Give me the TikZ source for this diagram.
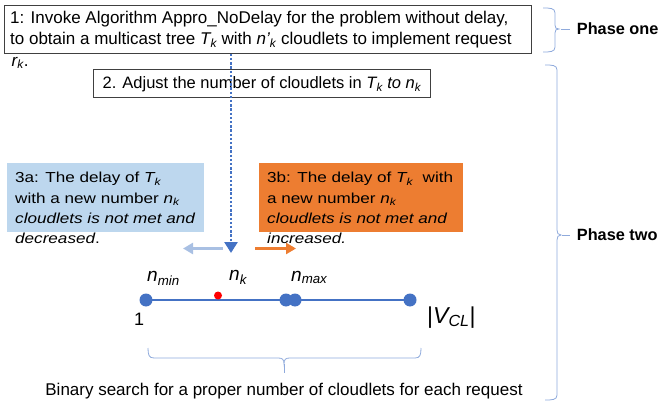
\documentclass[tikz,border=0pt]{standalone}
\usepackage{fontspec}
\setmainfont{Liberation Sans}
\newfontfamily\boxfont[FakeStretch=1.18]{Liberation Sans}
\usetikzlibrary{arrows.meta}
\definecolor{cblue}{HTML}{4472C4}
\definecolor{lblue}{HTML}{BDD7EE}
\definecolor{corange}{HTML}{ED7D31}
\definecolor{arrblue}{HTML}{A9C0E3}
\definecolor{bracec}{HTML}{8FAADC}
\definecolor{cred}{HTML}{FF0000}
\tikzset{
  stepbox/.style={draw=black!75, line width=0.8pt, inner sep=0pt, anchor=north west},
  txt/.style={anchor=north west, inner sep=0pt, align=left, font=\fontsize{17}{21}\selectfont},
  ctxt/.style={anchor=north west, inner sep=0pt, align=left, font=\boxfont\fontsize{14.5}{20.3}\selectfont},
  dotline/.style={cblue, line width=2.6pt, dash pattern=on 2.4pt off 1.8pt, -{Triangle[width=13pt,length=11pt]}},
  fatarrow/.style={line width=2.6pt, -{Triangle[width=11pt,length=10pt]}},
  dotb/.style={circle, fill=cblue, inner sep=0pt, minimum size=13pt},
  dotr/.style={circle, fill=cred, inner sep=0pt, minimum size=8pt},
  bracel/.style={bracec, line width=0.8pt},
  lab/.style={anchor=base west, inner sep=0pt, font=\fontsize{19}{21}\selectfont},
  phase/.style={anchor=base west, inner sep=0pt, font=\fontsize{16.3}{18}\selectfont\bfseries},
}
\newcommand{\ik}[2]{\textit{#1\textsubscript{#2}}}
\begin{document}
\begin{tikzpicture}[x=1pt,y=-1pt]
\useasboundingbox (0,0) rectangle (661,406);
% box 1
\node[stepbox, minimum width=527pt, minimum height=48pt] (b1) at (4,5) {};
\node[txt] (t1) at (10,11) {1: Invoke Algorithm Appro\_NoDelay for the problem without delay,\\
to obtain a multicast tree \ik{T}{k} with \ik{n'}{k} cloudlets to implement request\\[0.5pt]
\hspace{1.5pt}\ik{r}{k}.};
% box 2
\node[stepbox, minimum width=337pt, minimum height=28pt] (b2) at (93,69) {};
\node[txt, anchor=center, font=\fontsize{16.5}{20}\selectfont] (t2) at ([yshift=-1pt]b2.center) {2. Adjust the number of cloudlets in \ik{T}{k} \textit{to} \ik{n}{k}};
% box 3a
\node[stepbox, draw=none, fill=lblue, minimum width=197pt, minimum height=69pt] (b3a) at (7,163) {};
\node[ctxt] (t3a) at (15,172.2) {3a: The delay of \ik{T}{k}\\
with a new number \ik{n}{k}\\
\textit{cloudlets is not met and}\\
\textit{decreased}.};
% box 3b
\node[stepbox, draw=none, fill=corange, minimum width=204pt, minimum height=69pt] (b3b) at (259,163) {};
\node[ctxt] (t3b) at (267,172.2) {3b: The delay of \ik{T}{k}\ \ with\\
a new number \ik{n}{k}\\
\textit{cloudlets is not met and}\\
\textit{increased.}};
% arrows
\coordinate (la0) at (223,248.5);
\coordinate (la1) at (183,248.5);
\coordinate (ra0) at (255,248.5);
\coordinate (ra1) at (296,248.5);
\draw[fatarrow, arrblue] (la0) -- (la1);
\draw[fatarrow, corange] (ra0) -- (ra1);
% number line
\node[dotb] (p1) at (146,300) {};
\node[dotb] (p2) at (286,300) {};
\node[dotb] (p3) at (295,300) {};
\node[dotb] (p4) at (410,300) {};
\draw[cblue, line width=2pt] (p1.center) -- (p2.center);
\draw[cblue, line width=2.6pt] (p3.center) -- (p4.center);
\node[dotr] (pr) at (218,295.5) {};
\node[lab] (lmin) at (147,281.5) {\ik{n}{min}};
\node[lab] (lk) at (229,280.5) {\ik{n}{k}};
\node[lab] (lmax) at (291,281) {\ik{n}{max}};
\node[anchor=base west, inner sep=0pt, font=\fontsize{18}{20}\selectfont] (l1) at (134,325) {1};
\node[anchor=base west, inner sep=0pt, font=\fontsize{23}{25}\selectfont] (lv) at (427,323) {|\ik{V}{CL}|};
% bottom brace
\draw[bracel] (148,348) .. controls (148,355) and (149,358) .. (154,358) -- (278,358)
  .. controls (282,358) and (284,359) .. (284,364) .. controls (284,359) and (286,358) .. (290,358)
  -- (415,358) .. controls (420,358) and (421,355) .. (421,348);
\draw[bracel] (284,364) -- (284,373);
\node[anchor=base, inner sep=0pt, font=\fontsize{17}{19}\selectfont] (bs) at (284,395) {Binary search for a proper number of cloudlets for each request};
% dotted arrow
\coordinate (dtip) at (231,253);
\draw[dotline] (b1.south -| dtip) -- (dtip);
% phase one brace
\draw[bracel] (543,8) .. controls (550,8) and (555,8) .. (555,13) -- (555,25)
  .. controls (555,28) and (556,29) .. (559,29) .. controls (556,29) and (555,30) .. (555,33)
  -- (555,47) .. controls (555,52) and (550,52) .. (543,52);
\draw[bracel] (561,29) -- (570,29);
\node[phase] (ph1) at (576.7,35) {Phase one};
% phase two brace
\draw[bracel] (545,65) .. controls (552,65) and (557,65) .. (557,70) -- (557,230)
  .. controls (557,233) and (558,235) .. (561,235) .. controls (558,235) and (557,237) .. (557,240)
  -- (557,395) .. controls (557,400) and (552,400) .. (545,400);
\draw[bracel] (562,235) -- (570,235);
\node[phase] (ph2) at (576.7,240.5) {Phase two};
\end{tikzpicture}
\end{document}
